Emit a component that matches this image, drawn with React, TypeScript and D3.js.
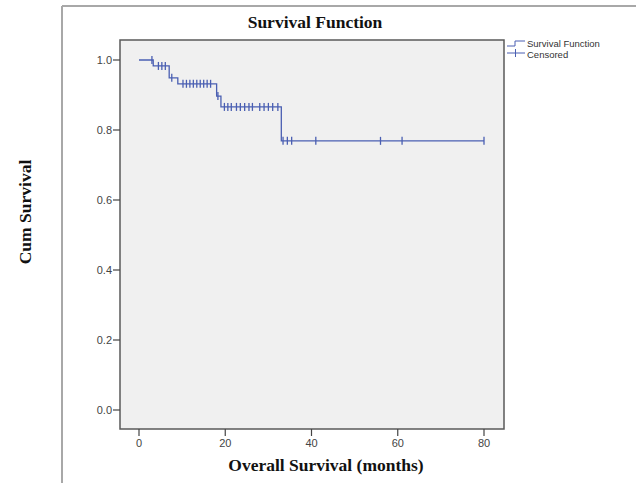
import React from "react";
import * as d3 from "d3";

const stepTimes = [0, 3.3, 7, 9, 18, 19, 33];
const stepSurv = [1.0, 0.983, 0.949, 0.932, 0.897, 0.866, 0.769];
const endTime = 80;
const censorTimes = [3, 4.5, 5.3, 6.1, 7.6, 10.2, 11, 11.8, 12.6, 13.4, 14.2, 15, 15.8, 16.6, 18.3, 19.8, 20.6, 21.4, 22.6, 23.5, 24.5, 25.5, 26.3, 28, 29, 30, 31, 32.2, 33.4, 34.4, 35.4, 41, 56, 61, 80];
const xTicks = [0, 20, 40, 60, 80];
const yTicks = [0, 0.2, 0.4, 0.6, 0.8, 1.0];

const W = 636, H = 483;
const COLOR = "#4a5fb2";

function survAt(t: number) {
  let s = stepSurv[0];
  for (let i = 0; i < stepTimes.length; i++) if (stepTimes[i] <= t) s = stepSurv[i];
  return s;
}

export default function App() {
  const x = d3.scaleLinear().domain([0, 80]).range([139, 484]);
  const y = d3.scaleLinear().domain([0, 1]).range([410, 60]);
  const pts: [number, number][] = stepTimes.map((t, i) => [t, stepSurv[i]]);
  pts.push([endTime, stepSurv[stepSurv.length - 1]]);
  const line = d3.line<[number, number]>().x(d => x(d[0])).y(d => y(d[1])).curve(d3.curveStepAfter);
  const sans = "Arial, 'Liberation Sans', sans-serif";
  const serif = "'Times New Roman', 'Liberation Serif', serif";
  return (
    <svg width={W} height={H} style={{ position: "absolute", left: 0, top: 0 }}>
      <rect x={0} y={0} width={W} height={H} fill="#fff" />
      <line x1={62} y1={6} x2={636} y2={6} stroke="#a8a8a8" strokeWidth={2} />
      <line x1={62} y1={6} x2={62} y2={483} stroke="#a8a8a8" strokeWidth={2} />
      <text x={315} y={28} textAnchor="middle" fontFamily={serif} fontWeight="bold" fontSize={17.5} fill="#111">Survival Function</text>
      <rect x={120} y={40} width={384} height={389} fill="#f0f0f0" stroke="#5a5a5a" strokeWidth={1.5} />
      {yTicks.map(v => (
        <g key={v}>
          <line x1={113} x2={120} y1={y(v)} y2={y(v)} stroke="#444" strokeWidth={1.2} />
          <text x={112} y={y(v) + 4} textAnchor="end" fontFamily={sans} fontSize={11} fill="#444">{v.toFixed(1)}</text>
        </g>
      ))}
      {xTicks.map(v => (
        <g key={v}>
          <line x1={x(v)} x2={x(v)} y1={429} y2={436} stroke="#444" strokeWidth={1.2} />
          <text x={x(v)} y={447} textAnchor="middle" fontFamily={sans} fontSize={11} fill="#444">{v}</text>
        </g>
      ))}
      <path d={line(pts) || ""} fill="none" stroke={COLOR} strokeWidth={1.3} />
      {censorTimes.map((t, i) => (
        <line key={i} x1={x(t)} x2={x(t)} y1={y(survAt(t)) - 4} y2={y(survAt(t)) + 4} stroke={COLOR} strokeWidth={1.3} />
      ))}
      <text x={326} y={471} textAnchor="middle" fontFamily={serif} fontWeight="bold" fontSize={17.5} fill="#111">Overall Survival (months)</text>
      <text transform="translate(31,212) rotate(-90)" textAnchor="middle" fontFamily={serif} fontWeight="bold" fontSize={17.5} fill="#111">Cum Survival</text>
      <path d="M507,46 H515 V41 H525" fill="none" stroke={COLOR} strokeWidth={1} />
      <line x1={507} x2={525} y1={53} y2={53} stroke={COLOR} strokeWidth={1} />
      <line x1={515.5} x2={515.5} y1={49} y2={57} stroke={COLOR} strokeWidth={1} />
      <text x={527} y={47} fontFamily={sans} fontSize={9.5} fill="#333">Survival Function</text>
      <text x={527} y={57.5} fontFamily={sans} fontSize={9.5} fill="#333">Censored</text>
    </svg>
  );
}
